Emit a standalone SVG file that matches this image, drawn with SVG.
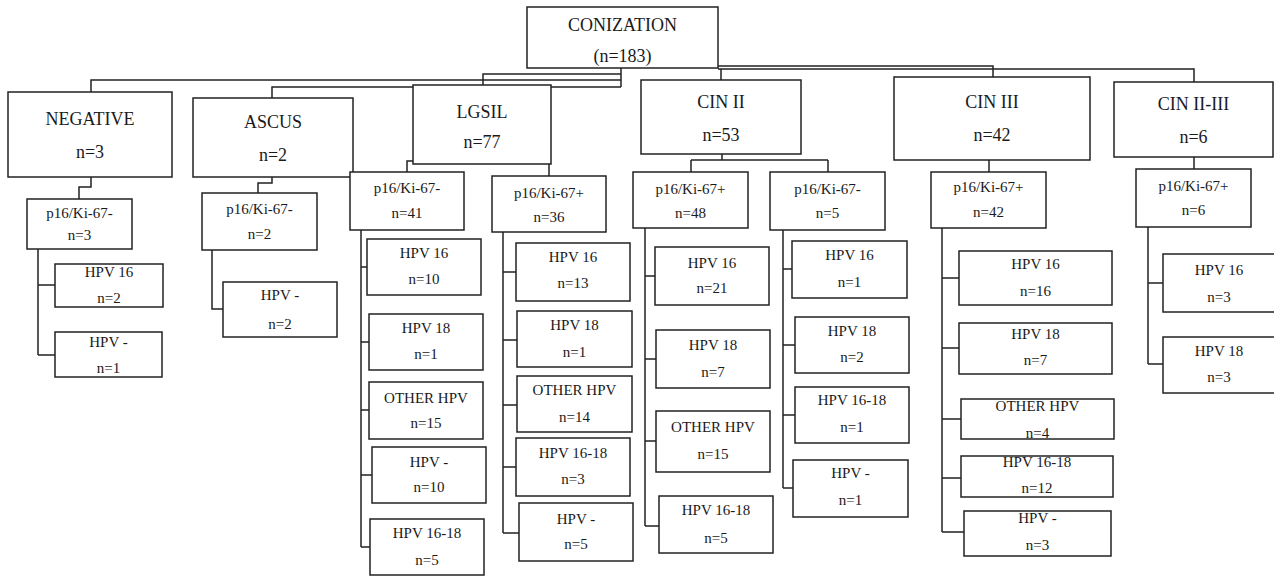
<svg xmlns="http://www.w3.org/2000/svg" width="1274" height="576" viewBox="0 0 1274 576">
<style>
rect{fill:#fff;stroke:#222;stroke-width:1.5}
.c path{fill:none;stroke:#222;stroke-width:1.5}
text{font-family:"Liberation Serif","Times New Roman",serif;fill:#1a1a1a;text-anchor:middle}
.t1{font-size:18px}
.t2{font-size:15px}
</style>
<rect x="0" y="0" width="1274" height="576" style="stroke:none;fill:#fff"/>
<g id="connectors" class="c">
<path d="M621,68V87M621,80H91V92M621,87H272V98M621,74H483V85M718,66H993V77M718,69H1194V82M721,69V80"/>
<path d="M91,177V187H79V199M272,177V183H258V193M420,161H407V172M549,164V176M722,154V160M691,160H828M691,160V172M828,160V172M989,160V172M1194,157V169"/>
<path d="M38,249V355M38,285H55M38,355H55"/>
<path d="M212,250V309H223"/>
<path d="M361,230V547M361,267H367M361,342H369M361,410H369M361,475H372M361,547H370"/>
<path d="M503,232V533M503,272H516M503,340H517M503,405H517M503,467H516M503,533H519"/>
<path d="M645,228V526M645,276H655M645,359H656M645,441H656M645,526H659"/>
<path d="M783,230V488M783,269H792M783,345H795M783,415H795M783,488H793"/>
<path d="M942,228V532M942,278H959M942,348H959M942,419H961M942,478H961M942,532H964"/>
<path d="M1148,227V364M1148,283H1163M1148,364H1163"/>
</g>
<g id="conization"><rect x="527" y="7" width="191" height="61"/><text class="t1" x="622.5" y="31">CONIZATION</text><text class="t1" x="622.5" y="62">(n=183)</text></g>
<g id="negative"><rect x="8" y="92" width="164" height="85"/><text class="t1" x="90" y="125">NEGATIVE</text><text class="t1" x="90" y="158">n=3</text></g>
<g id="ascus"><rect x="193" y="98" width="160" height="79"/><text class="t1" x="273" y="128">ASCUS</text><text class="t1" x="273" y="161">n=2</text></g>
<g id="lgsil"><rect x="413" y="85" width="138" height="79"/><text class="t1" x="482" y="118">LGSIL</text><text class="t1" x="482" y="148">n=77</text></g>
<g id="cin2"><rect x="641" y="80" width="160" height="74"/><text class="t1" x="721" y="108">CIN II</text><text class="t1" x="721" y="141">n=53</text></g>
<g id="cin3"><rect x="894" y="77" width="196" height="83"/><text class="t1" x="992" y="108">CIN III</text><text class="t1" x="992" y="141">n=42</text></g>
<g id="cin23"><rect x="1114" y="82" width="159" height="75"/><text class="t1" x="1193.5" y="110">CIN II-III</text><text class="t1" x="1193.5" y="143">n=6</text></g>

<g id="neg-p16"><rect x="27" y="199" width="105" height="50"/><text class="t2" x="79.5" y="218">p16/Ki-67-</text><text class="t2" x="79.5" y="240">n=3</text></g>
<g id="neg-hpv16"><rect x="55" y="264" width="108" height="43"/><text class="t2" x="109" y="277">HPV 16</text><text class="t2" x="109" y="303">n=2</text></g>
<g id="neg-hpvneg"><rect x="55" y="332" width="107" height="45"/><text class="t2" x="108.5" y="347">HPV -</text><text class="t2" x="108.5" y="373">n=1</text></g>

<g id="ascus-p16"><rect x="202" y="193" width="115" height="57"/><text class="t2" x="259.5" y="214">p16/Ki-67-</text><text class="t2" x="259.5" y="239">n=2</text></g>
<g id="ascus-hpvneg"><rect x="223" y="282" width="114" height="55"/><text class="t2" x="280" y="300">HPV -</text><text class="t2" x="280" y="329">n=2</text></g>

<g id="lgsil-p16neg"><rect x="350" y="172" width="114" height="58"/><text class="t2" x="407" y="193">p16/Ki-67-</text><text class="t2" x="407" y="218">n=41</text></g>
<g id="lgsil-n-hpv16"><rect x="367" y="239" width="114" height="56"/><text class="t2" x="424" y="258">HPV 16</text><text class="t2" x="424" y="284">n=10</text></g>
<g id="lgsil-n-hpv18"><rect x="369" y="314" width="114" height="56"/><text class="t2" x="426" y="333">HPV 18</text><text class="t2" x="426" y="359">n=1</text></g>
<g id="lgsil-n-other"><rect x="369" y="382" width="114" height="57"/><text class="t2" x="426" y="403">OTHER HPV</text><text class="t2" x="426" y="428">n=15</text></g>
<g id="lgsil-n-hpvneg"><rect x="372" y="447" width="114" height="56"/><text class="t2" x="429" y="467">HPV -</text><text class="t2" x="429" y="492">n=10</text></g>
<g id="lgsil-n-hpv1618"><rect x="370" y="519" width="114" height="56"/><text class="t2" x="427" y="538">HPV 16-18</text><text class="t2" x="427" y="565">n=5</text></g>

<g id="lgsil-p16pos"><rect x="492" y="176" width="114" height="56"/><text class="t2" x="549" y="198">p16/Ki-67+</text><text class="t2" x="549" y="222">n=36</text></g>
<g id="lgsil-p-hpv16"><rect x="516" y="243" width="114" height="58"/><text class="t2" x="573" y="262">HPV 16</text><text class="t2" x="573" y="288">n=13</text></g>
<g id="lgsil-p-hpv18"><rect x="517" y="311" width="115" height="56"/><text class="t2" x="574.5" y="330">HPV 18</text><text class="t2" x="574.5" y="357">n=1</text></g>
<g id="lgsil-p-other"><rect x="517" y="376" width="115" height="56"/><text class="t2" x="574.5" y="395">OTHER HPV</text><text class="t2" x="574.5" y="422">n=14</text></g>
<g id="lgsil-p-hpv1618"><rect x="516" y="438" width="114" height="58"/><text class="t2" x="573" y="458">HPV 16-18</text><text class="t2" x="573" y="484">n=3</text></g>
<g id="lgsil-p-hpvneg"><rect x="519" y="503" width="114" height="58"/><text class="t2" x="576" y="524">HPV -</text><text class="t2" x="576" y="549">n=5</text></g>

<g id="cin2-p16pos"><rect x="633" y="172" width="115" height="56"/><text class="t2" x="690.5" y="194">p16/Ki-67+</text><text class="t2" x="690.5" y="218">n=48</text></g>
<g id="cin2-p-hpv16"><rect x="655" y="247" width="114" height="58"/><text class="t2" x="712" y="268">HPV 16</text><text class="t2" x="712" y="293">n=21</text></g>
<g id="cin2-p-hpv18"><rect x="656" y="330" width="114" height="58"/><text class="t2" x="713" y="350">HPV 18</text><text class="t2" x="713" y="377">n=7</text></g>
<g id="cin2-p-other"><rect x="656" y="411" width="114" height="61"/><text class="t2" x="713" y="432">OTHER HPV</text><text class="t2" x="713" y="459">n=15</text></g>
<g id="cin2-p-hpv1618"><rect x="659" y="496" width="114" height="57"/><text class="t2" x="716" y="515">HPV 16-18</text><text class="t2" x="716" y="543">n=5</text></g>

<g id="cin2-p16neg"><rect x="770" y="172" width="115" height="58"/><text class="t2" x="827.5" y="194">p16/Ki-67-</text><text class="t2" x="827.5" y="218">n=5</text></g>
<g id="cin2-n-hpv16"><rect x="792" y="241" width="115" height="57"/><text class="t2" x="849.5" y="260">HPV 16</text><text class="t2" x="849.5" y="287">n=1</text></g>
<g id="cin2-n-hpv18"><rect x="795" y="317" width="114" height="56"/><text class="t2" x="852" y="336">HPV 18</text><text class="t2" x="852" y="362">n=2</text></g>
<g id="cin2-n-hpv1618"><rect x="795" y="387" width="114" height="56"/><text class="t2" x="852" y="405">HPV 16-18</text><text class="t2" x="852" y="432">n=1</text></g>
<g id="cin2-n-hpvneg"><rect x="793" y="460" width="115" height="57"/><text class="t2" x="850.5" y="478">HPV -</text><text class="t2" x="850.5" y="505">n=1</text></g>

<g id="cin3-p16pos"><rect x="931" y="172" width="115" height="56"/><text class="t2" x="988.5" y="192">p16/Ki-67+</text><text class="t2" x="988.5" y="217">n=42</text></g>
<g id="cin3-hpv16"><rect x="959" y="251" width="153" height="54"/><text class="t2" x="1035.5" y="269">HPV 16</text><text class="t2" x="1035.5" y="296">n=16</text></g>
<g id="cin3-hpv18"><rect x="959" y="323" width="153" height="51"/><text class="t2" x="1035.5" y="339">HPV 18</text><text class="t2" x="1035.5" y="365">n=7</text></g>
<g id="cin3-other"><rect x="961" y="399" width="153" height="40"/><text class="t2" x="1037.5" y="411">OTHER HPV</text><text class="t2" x="1037.5" y="438">n=4</text></g>
<g id="cin3-hpv1618"><rect x="961" y="456" width="152" height="41"/><text class="t2" x="1037" y="467">HPV 16-18</text><text class="t2" x="1037" y="493">n=12</text></g>
<g id="cin3-hpvneg"><rect x="964" y="511" width="147" height="45"/><text class="t2" x="1037.5" y="523">HPV -</text><text class="t2" x="1037.5" y="550">n=3</text></g>

<g id="cin23-p16pos"><rect x="1136" y="169" width="115" height="58"/><text class="t2" x="1193.5" y="191">p16/Ki-67+</text><text class="t2" x="1193.5" y="215">n=6</text></g>
<g id="cin23-hpv16"><rect x="1163" y="254" width="114" height="58"/><text class="t2" x="1219" y="275">HPV 16</text><text class="t2" x="1219" y="302">n=3</text></g>
<g id="cin23-hpv18"><rect x="1163" y="337" width="114" height="56"/><text class="t2" x="1219" y="356">HPV 18</text><text class="t2" x="1219" y="382">n=3</text></g>
</svg>
